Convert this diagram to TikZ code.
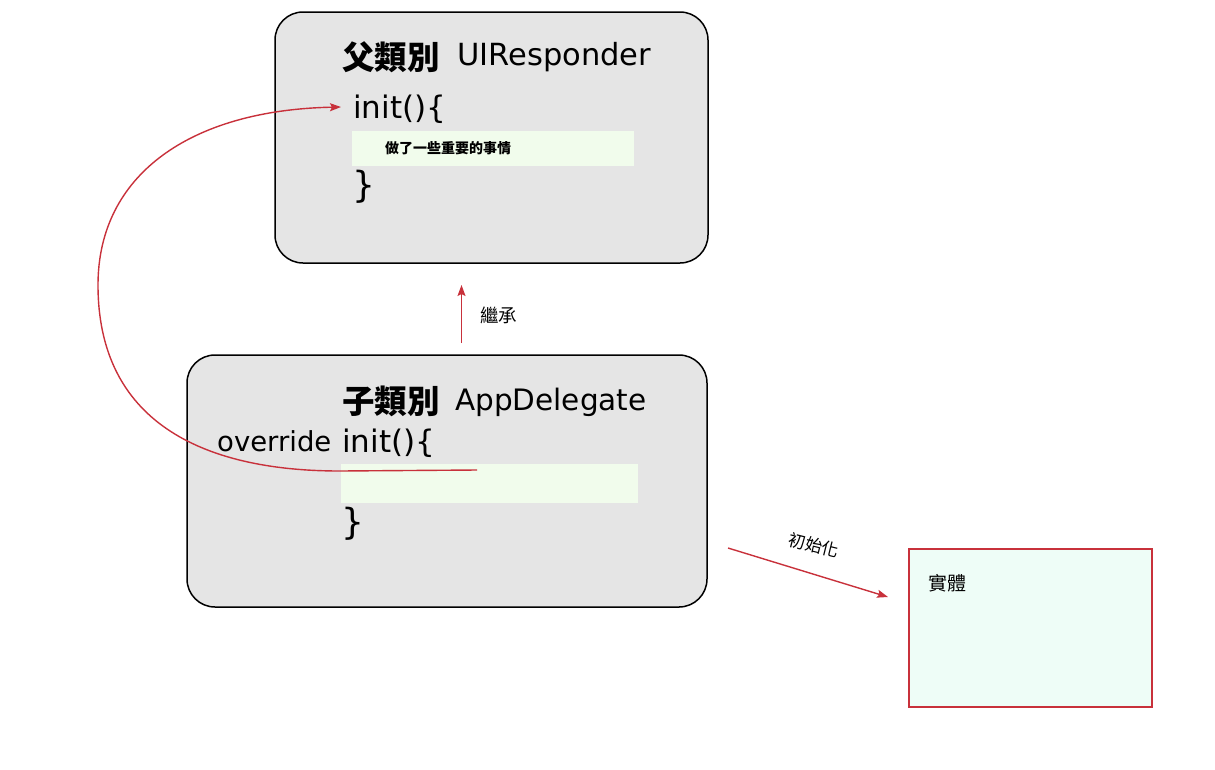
\documentclass[tikz,border=0pt]{standalone}
\usepackage{fontspec}
\setmainfont{DejaVu Sans}
\newfontfamily\cjk{Noto Sans CJK TC}
\usetikzlibrary{arrows.meta}
\definecolor{boxgray}{HTML}{E5E5E5}
\definecolor{stripgreen}{HTML}{F1FCEC}
\definecolor{mint}{HTML}{EEFDF7}
\definecolor{arrred}{HTML}{C8313B}
\tikzset{
  classbox/.style={draw=black, line width=1.5pt, fill=boxgray, rounded corners=28pt, inner sep=0pt},
  strip/.style={fill=stripgreen, draw=none, inner sep=0pt},
  instbox/.style={draw=arrred, line width=1.5pt, fill=mint, inner sep=0pt},
  txt/.style={inner sep=0pt, anchor=base west},
  redarrow/.style={draw=arrred, line width=1.4pt, -{Stealth[length=11pt,width=8pt,inset=2pt]}},
}
\begin{document}
\begin{tikzpicture}[x=1pt,y=-1pt]
\useasboundingbox (0,0) rectangle (1215,769);
% parent class box
\node[classbox, minimum width=433pt, minimum height=251pt] (parent) at (491.5,137.5) {};
\node[txt, font=\fontsize{32.5}{33}\selectfont\cjk\bfseries] (ptitle) at (342,69) {父類別};
\node[txt, font=\fontsize{30.5}{31}\selectfont] (pname) at (457,65) {UIResponder};
\node[txt, font=\fontsize{31}{31}\selectfont] (pinit) at (353,118) {init()\{};
\node[strip, minimum width=282pt, minimum height=35pt] (pstrip) at (493,148.5) {};
\node[inner sep=0pt, font=\fontsize{14}{14}\selectfont\cjk\bfseries, anchor=west] (pwork) at (385,148.5) {做了一些重要的事情};
\node[txt, font=\fontsize{36}{36}\selectfont] (pclose) at (352,197) {\}};
% child class box
\node[classbox, minimum width=520pt, minimum height=252pt] (child) at (447,481) {};
\node[txt, font=\fontsize{32.5}{33}\selectfont\cjk\bfseries] (ctitle) at (342,413) {子類別};
\node[txt, font=\fontsize{29.5}{30}\selectfont] (cname) at (455,410) {AppDelegate};
\node[txt, font=\fontsize{27.5}{28}\selectfont] (cover) at (217,451) {override};
\node[txt, font=\fontsize{31}{31}\selectfont] (cinit) at (342,452) {init()\{};
\node[strip, minimum width=297pt, minimum height=39pt] (cstrip) at (489.5,483.5) {};
\node[txt, font=\fontsize{36}{36}\selectfont] (cclose) at (341,534) {\}};
% instance box
\node[instbox, minimum width=243pt, minimum height=158pt] (inst) at (1030.5,628) {};
\node[inner sep=0pt, font=\fontsize{19}{19}\selectfont\cjk, anchor=west] (instlbl) at (928,583) {實體};
% inheritance arrow
\coordinate (inhS) at (461.5,343);
\coordinate (inhE) at (461.5,285);
\draw[redarrow] (inhS) -- (inhE);
\node[inner sep=0pt, font=\fontsize{18.5}{19}\selectfont\cjk, anchor=west] (inhlbl) at (480,315.5) {繼承};
% init arrow
\coordinate (initS) at (728,548);
\coordinate (initE) at (888,597);
\draw[redarrow] (initS) -- (initE);
\node[inner sep=0pt, font=\fontsize{17}{17}\selectfont\cjk, rotate=-14] (initlbl) at (814,545) {初始化};
% override curve
\coordinate (ovS) at (477,470);
\coordinate (ovE) at (341,107);
\draw[redarrow] (ovS) -- (340,471) .. controls (200,471) and (98,420) .. (98,285)
  .. controls (98,175) and (190,110) .. (ovE);
\end{tikzpicture}
\end{document}
